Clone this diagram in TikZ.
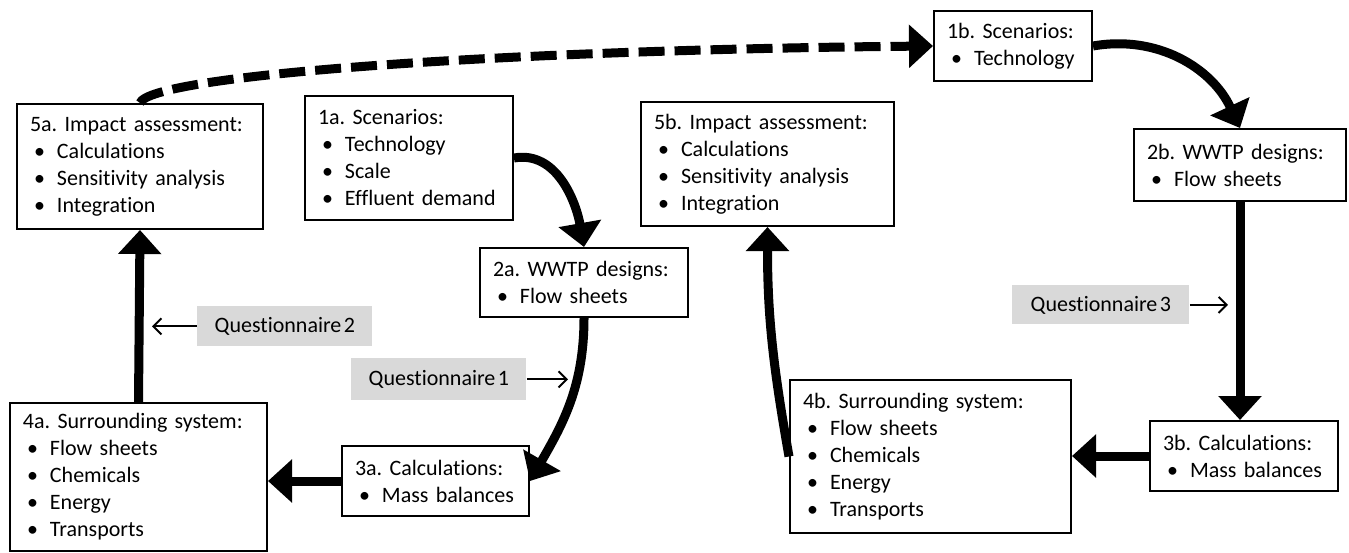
\documentclass[tikz,border=0pt]{standalone}
\usepackage{fontspec}
\setmainfont{Carlito}[Ligatures=NoCommon, WordSpace=0.5]
\usepackage{tikz}
\usetikzlibrary{arrows.meta, positioning}

\newcommand{\itm}[1]{\makebox[13.5pt][l]{\hspace{2pt}\textbullet}#1}
\frenchspacing

\begin{document}
\begin{tikzpicture}[x=0.5pt, y=-0.5pt,
  big/.style={line width=4.5pt, -{Triangle[length=12pt,width=21pt]}},
  qarrow/.style={line width=1pt, -{Straight Barb[length=4pt,width=8pt]}},
  stage/.style={draw, line width=1pt, anchor=north west, align=left,
  inner xsep=6.5pt, inner ysep=0pt, font=\fontsize{11}{13.5}\selectfont},
  quest/.style={fill=black!15, anchor=north west, inner sep=0pt,
  minimum width=87.5pt, font=\fontsize{11}{13.5}\selectfont}]
  \useasboundingbox (0,0) rectangle (1349,552);

  % track a
  \node[stage, text width=110pt, minimum height=62.5pt] (S5A) at (16,103) {5a. Impact assessment:\\ \itm{Calculations}\\ \itm{Sensitivity analysis}\\ \itm{Integration}};
  \node[stage, text width=91pt, minimum height=62pt] (S1A) at (304,95) {1a. Scenarios:\\ \itm{Technology}\\ \itm{Scale}\\ \itm{Effluent demand}};
  \node[stage, text width=91pt, minimum height=34.5pt] (S2A) at (479,247) {2a. WWTP designs:\\ \itm{Flow sheets}};
  \node[stage, text width=80.5pt, minimum height=35pt] (S3A) at (341,445) {3a. Calculations:\\ \itm{Mass balances}};
  \node[stage, text width=115.5pt, minimum height=74pt] (S4A) at (9,402) {4a. Surrounding system:\\ \itm{Flow sheets}\\ \itm{Chemicals}\\ \itm{Energy}\\ \itm{Transports}};

  % track b
  \node[stage, text width=113.5pt, minimum height=62pt] (S5B) at (640,101) {5b. Impact assessment:\\ \itm{Calculations}\\ \itm{Sensitivity analysis}\\ \itm{Integration}};
  \node[stage, text width=66pt, minimum height=35pt] (S1B) at (933,10) {1b. Scenarios:\\ \itm{Technology}};
  \node[stage, text width=93pt, minimum height=36pt] (S2B) at (1133,128) {2b. WWTP designs:\\ \itm{Flow sheets}};
  \node[stage, text width=81pt, minimum height=35pt] (S3B) at (1149,420) {3b. Calculations:\\ \itm{Mass balances}};
  \node[stage, text width=127.5pt, minimum height=76.5pt] (S4B) at (789,379) {4b. Surrounding system:\\ \itm{Flow sheets}\\ \itm{Chemicals}\\ \itm{Energy}\\ \itm{Transports}};

  % questionnaires
  \node[quest, minimum height=20pt] (Q2) at (197,306) {Questionnaire 2};
  \node[quest, minimum height=21pt] (Q1) at (351,358) {Questionnaire 1};
  \node[quest, minimum width=88.5pt, minimum height=19.5pt] (Q3) at (1012,285) {Questionnaire 3};

  \path[big]
    (S1A.east) edge[out=10, in=100] (S2A.north)
    (S2A.south) edge[out=-90, in=60] (S3A.east)
    (S3A.west) edge (S3A.west -| S4A.east)
    (S4A.north) edge (S5A.south)
    (S1B.east) edge[out=10, in=115] (S2B.north)
    (S2B.south) edge (S2B.south |- S3B.north)
    (S3B.west) edge (S3B.west -| S4B.east)
    (S4B.west) edge[out=100, in=-90] (S5B.south);

  \draw[big, dash pattern=on 13pt off 5pt] (S5A.north) .. controls (150,75) and (500,50) .. (S1B.west);

  \draw[qarrow, shorten >=6pt] (Q2.west) -- (Q2.west -| S5A.south);
  \draw[qarrow, shorten >=8pt] (Q1.east) -- (Q1.east -| S2A.south);
  \draw[qarrow, shorten >=6pt] (Q3.east) -- (Q3.east -| S2B.south);
\end{tikzpicture}
\end{document}
